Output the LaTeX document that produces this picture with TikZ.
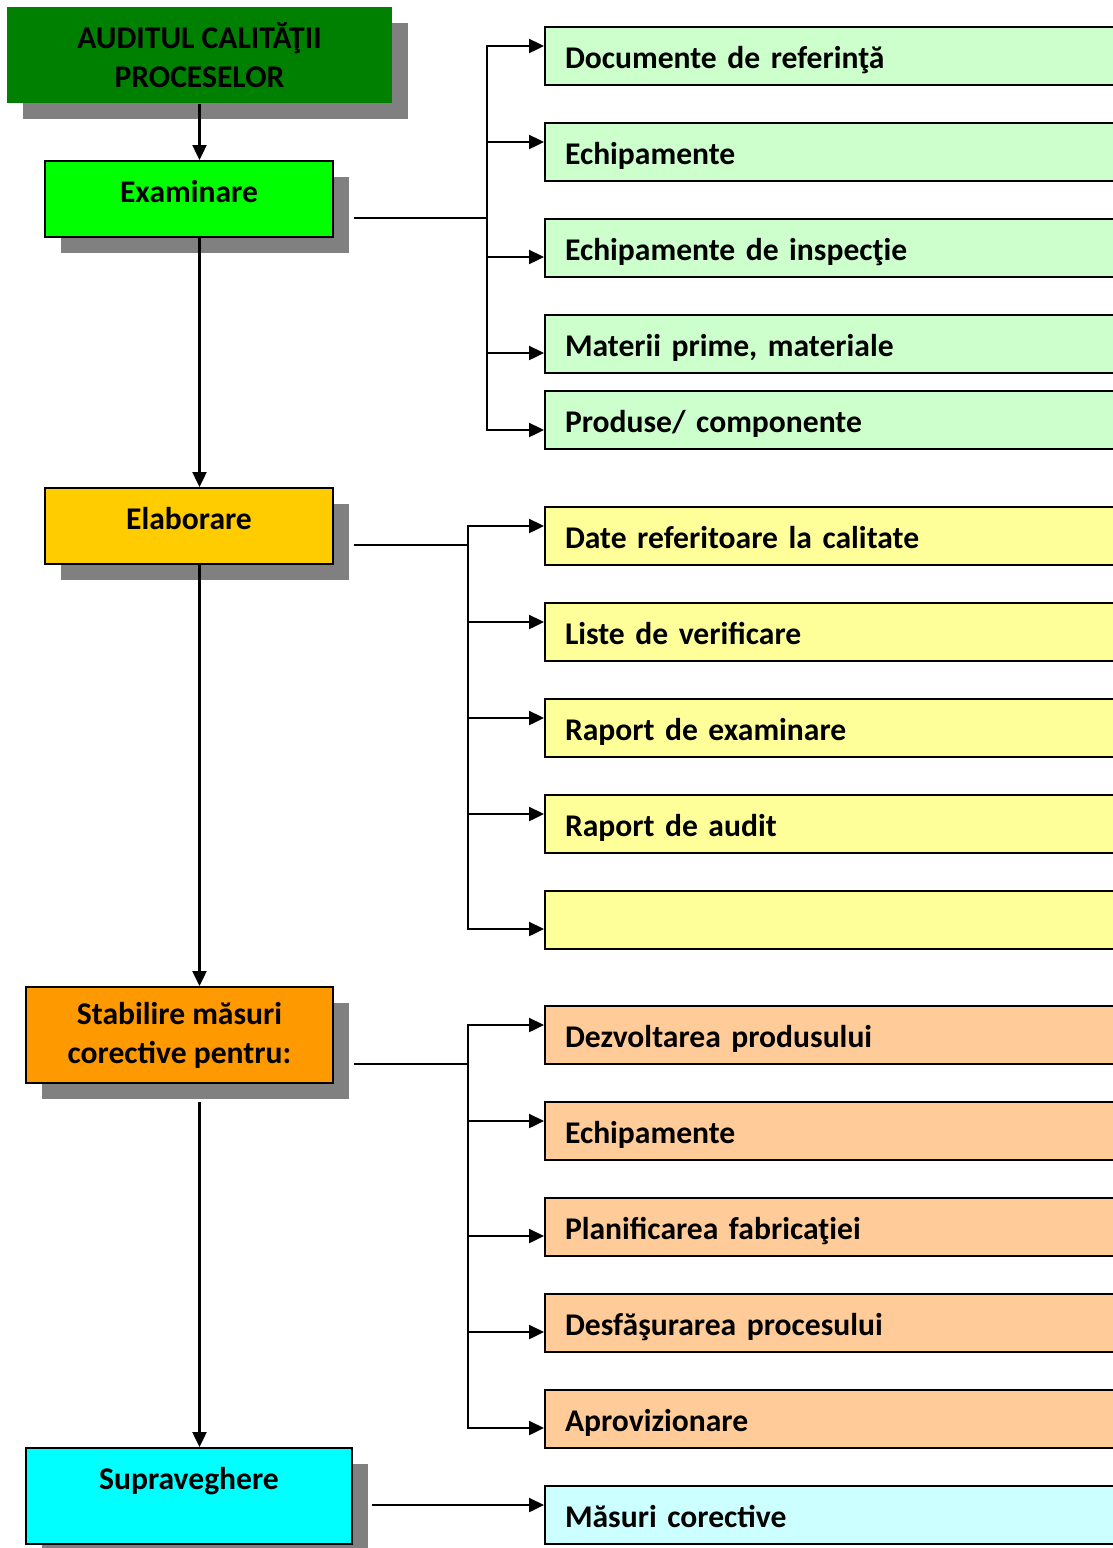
\documentclass[tikz,border=0pt]{standalone}
\usepackage{fontspec}
\setmainfont{Carlito}
\usetikzlibrary{arrows.meta,shadows}

\definecolor{topgreen}{RGB}{0,128,0}
\definecolor{exgreen}{RGB}{0,255,0}
\definecolor{elgold}{RGB}{255,204,0}
\definecolor{storange}{RGB}{255,153,0}
\definecolor{supcyan}{RGB}{0,255,255}
\definecolor{lgreen}{RGB}{204,255,204}
\definecolor{lyellow}{RGB}{255,255,153}
\definecolor{lorange}{RGB}{255,204,153}
\definecolor{lcyan}{RGB}{204,255,255}

\tikzset{
  every node/.style={font=\bfseries\fontsize{15.8pt}{19.5pt}\selectfont},
  stage/.style={line width=1pt, inner sep=0pt,
    drop shadow={shadow xshift=8pt, shadow yshift=-8pt, fill=gray, opacity=1}},
  oneline/.style={stage, draw, text height=20.5pt},
  twoline/.style={stage, align=center},
  item/.style={draw, line width=1pt, anchor=west, minimum height=29pt,
    text width=270.5pt, inner xsep=10pt, inner ysep=0pt, align=left,
    text height=14.5pt, text depth=2pt},
  conn/.style={line width=1.2pt},
  arr/.style={conn, -{Triangle[length=7.5pt,width=7pt]}},
}

\begin{document}
\begin{tikzpicture}[x=0.5pt,y=-0.5pt]
  \useasboundingbox (0,0) rectangle (1113,1548);

  % left column
  \node[twoline, fill=topgreen, minimum width=192.5pt, minimum height=48pt]
    (top) at (199.5,55) {AUDITUL CALITĂŢII\\PROCESELOR};
  \node[oneline, fill=exgreen, minimum width=144pt, text depth=17.5pt]
    (ex) at (189,199) {Examinare};
  \node[oneline, fill=elgold, minimum width=144pt, text depth=17.5pt]
    (el) at (189,526) {Elaborare};
  \node[twoline, draw, fill=storange, minimum width=153.5pt, minimum height=48pt]
    (st) at (179.5,1035) {Stabilire măsuri\\corective pentru:};
  \node[oneline, fill=supcyan, minimum width=163pt, text depth=27.5pt]
    (sup) at (189,1496) {Supraveghere};

  % examinare items
  \node[item, fill=lgreen] (ex1) at (544,56) {Documente de referinţă};
  \node[item, fill=lgreen] (ex2) at (544,152) {Echipamente};
  \node[item, fill=lgreen] (ex3) at (544,248) {Echipamente de inspecţie};
  \node[item, fill=lgreen] (ex4) at (544,344) {Materii prime, materiale};
  \node[item, fill=lgreen] (ex5) at (544,420) {Produse/ componente};

  % elaborare items
  \node[item, fill=lyellow] (el1) at (544,536) {Date referitoare la calitate};
  \node[item, fill=lyellow] (el2) at (544,632) {Liste de verificare};
  \node[item, fill=lyellow] (el3) at (544,728) {Raport de examinare};
  \node[item, fill=lyellow] (el4) at (544,824) {Raport de audit};
  \node[item, fill=lyellow] (el5) at (544,920) {};

  % corrective items
  \node[item, fill=lorange] (st1) at (544,1035) {Dezvoltarea produsului};
  \node[item, fill=lorange] (st2) at (544,1131) {Echipamente};
  \node[item, fill=lorange] (st3) at (544,1227) {Planificarea fabricaţiei};
  \node[item, fill=lorange] (st4) at (544,1323) {Desfăşurarea procesului};
  \node[item, fill=lorange] (st5) at (544,1419) {Aprovizionare};

  \node[item, fill=lcyan] (mc) at (544,1515) {Măsuri corective};

  % main spine
  \coordinate (sp1) at (ex.south -| top.south);
  \coordinate (sp2) at (el.south -| top.south);
  \coordinate (sp3) at (st.south -| top.south);
  \draw[arr] (top.south) -- (ex.north -| top.south);
  \draw[arr] (sp1) -- (el.north -| top.south);
  \draw[arr] (sp2) -- (st.north -| top.south);
  \draw[arr] ([shift={(0,18)}]sp3) -- (sup.north -| top.south);

  % buses
  \coordinate (busex) at (487,218);
  \coordinate (busel) at (468,545);
  \coordinate (busst) at (468,1064);
  \draw[conn] ([shift={(20,19)}]ex.east) -- (busex);
  \draw[arr] (busex) |- ([shift={(0,-10)}]ex1.west);
  \draw[arr] (busex) |- ([shift={(0,-10)}]ex2.west);
  \draw[arr] (busex) |- ([shift={(0,9)}]ex3.west);
  \draw[arr] (busex) |- ([shift={(0,9)}]ex4.west);
  \draw[arr] (busex) |- ([shift={(0,10)}]ex5.west);

  \draw[conn] ([shift={(20,19)}]el.east) -- (busel);
  \draw[arr] (busel) |- ([shift={(0,-10)}]el1.west);
  \draw[arr] (busel) |- ([shift={(0,-10)}]el2.west);
  \draw[arr] (busel) |- ([shift={(0,-10)}]el3.west);
  \draw[arr] (busel) |- ([shift={(0,-10)}]el4.west);
  \draw[arr] (busel) |- ([shift={(0,9)}]el5.west);

  \draw[conn] ([shift={(20,29)}]st.east) -- (busst);
  \draw[arr] (busst) |- ([shift={(0,-10)}]st1.west);
  \draw[arr] (busst) |- ([shift={(0,-10)}]st2.west);
  \draw[arr] (busst) |- ([shift={(0,9)}]st3.west);
  \draw[arr] (busst) |- ([shift={(0,9)}]st4.west);
  \draw[arr] (busst) |- ([shift={(0,9)}]st5.west);

  \draw[arr] ([shift={(19,9)}]sup.east) -- ([shift={(0,-10)}]mc.west);
\end{tikzpicture}
\end{document}
